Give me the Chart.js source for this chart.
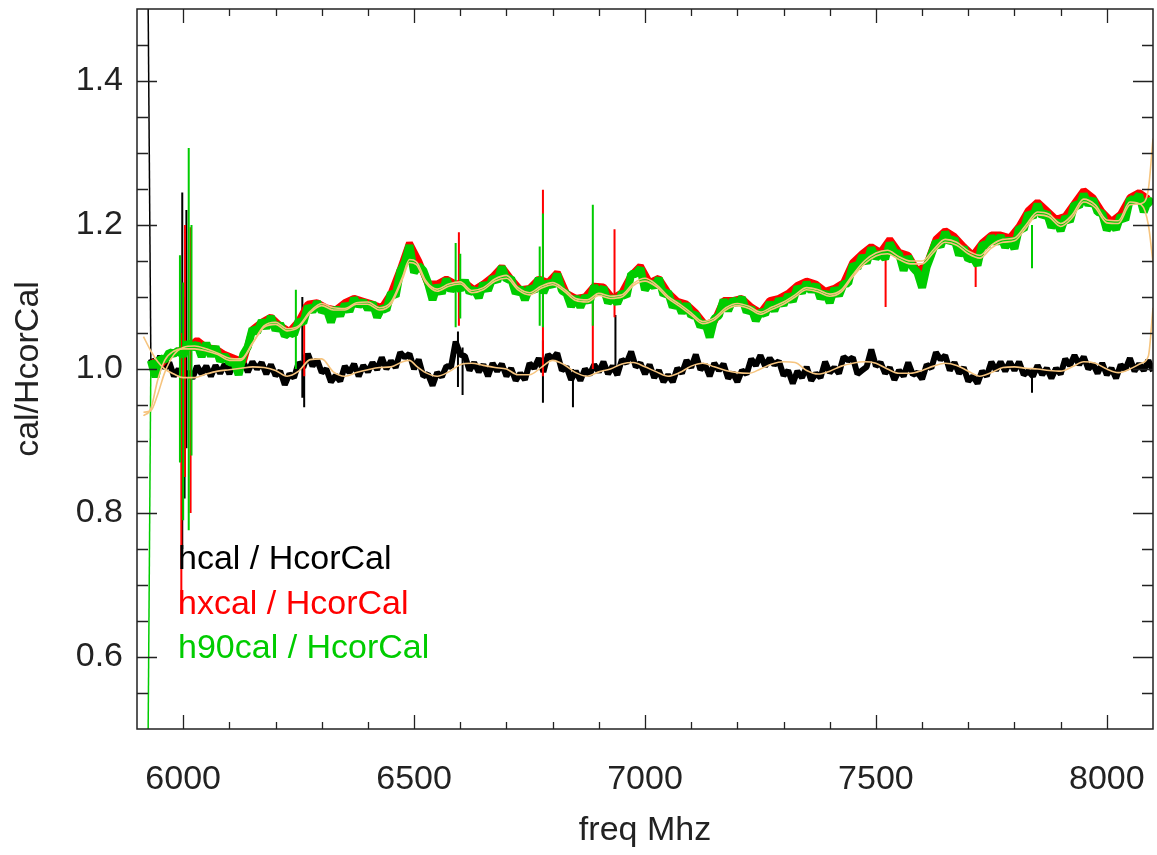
<!DOCTYPE html>
<html>
<head>
<meta charset="utf-8">
<script src="https://cdn.jsdelivr.net/npm/chart.js@4.4.1/dist/chart.umd.min.js"></script>
<style>
  html, body { margin: 0; padding: 0; background: #fff; }
  #wrap { width: 1157px; height: 855px; }
</style>
</head>
<body>
<div id="wrap"><canvas id="chart" width="1157" height="855"></canvas></div>
<script>
// --- sample frequencies (MHz), 10 MHz grid ---
const sampleFreq = [
  5930,5940,5950,5960,5970,5980,5990,6000,6010,6020,
  6030,6040,6050,6060,6070,6080,6090,6100,6110,6120,
  6130,6140,6150,6160,6170,6180,6190,6200,6210,6220,
  6230,6240,6250,6260,6270,6280,6290,6300,6310,6320,
  6330,6340,6350,6360,6370,6380,6390,6400,6410,6420,
  6430,6440,6450,6460,6470,6480,6490,6500,6510,6520,
  6530,6540,6550,6560,6570,6580,6590,6600,6610,6620,
  6630,6640,6650,6660,6670,6680,6690,6700,6710,6720,
  6730,6740,6750,6760,6770,6780,6790,6800,6810,6820,
  6830,6840,6850,6860,6870,6880,6890,6900,6910,6920,
  6930,6940,6950,6960,6970,6980,6990,7000,7010,7020,
  7030,7040,7050,7060,7070,7080,7090,7100,7110,7120,
  7130,7140,7150,7160,7170,7180,7190,7200,7210,7220,
  7230,7240,7250,7260,7270,7280,7290,7300,7310,7320,
  7330,7340,7350,7360,7370,7380,7390,7400,7410,7420,
  7430,7440,7450,7460,7470,7480,7490,7500,7510,7520,
  7530,7540,7550,7560,7570,7580,7590,7600,7610,7620,
  7630,7640,7650,7660,7670,7680,7690,7700,7710,7720,
  7730,7740,7750,7760,7770,7780,7790,7800,7810,7820,
  7830,7840,7850,7860,7870,7880,7890,7900,7910,7920,
  7930,7940,7950,7960,7970,7980,7990,8000,8010,8020,
  8030,8040,8050,8060,8070,8080,8090,8100
];

// hcal / HcorCal
const hcalRatio = [
  1.014,0.998,1.018,1.001,1.009,0.990,1.000,0.986,0.996,0.987,
  1.004,0.993,1.004,0.990,1.005,0.994,1.007,0.993,1.010,0.996,
  1.010,0.996,1.010,1.000,1.009,0.993,1.006,0.991,0.997,0.978,
  0.993,0.988,1.009,1.002,1.021,1.004,1.013,0.995,1.000,0.982,
  0.991,0.983,1.004,0.995,1.007,0.990,1.005,0.996,1.009,0.999,
  1.016,1.000,1.011,1.002,1.023,1.016,1.021,1.000,1.013,0.990,
  0.993,0.977,0.995,0.989,1.004,1.003,1.038,1.020,1.018,0.998,
  1.009,0.996,1.006,0.990,1.008,0.997,1.007,0.990,1.001,0.984,
  0.994,0.985,1.008,1.001,1.015,0.996,1.020,1.014,1.022,0.998,
  1.003,0.985,0.997,0.984,1.000,0.992,1.006,0.996,1.010,0.993,
  1.004,0.992,1.013,1.008,1.024,1.003,1.008,0.993,1.006,0.988,
  0.998,0.982,0.992,0.982,1.001,0.994,1.012,1.002,1.020,0.999,
  1.006,0.990,1.008,0.998,1.007,0.987,0.995,0.982,0.998,0.993,
  1.014,1.005,1.019,1.004,1.015,1.006,1.011,0.991,0.998,0.980,
  0.997,0.988,1.003,0.984,0.994,0.988,1.010,0.995,1.002,0.994,
  1.017,1.012,1.016,0.993,0.998,1.003,1.027,1.004,1.009,0.994,
  1.002,0.985,0.998,0.990,1.009,0.992,0.995,0.986,1.006,1.001,
  1.023,1.013,1.019,0.998,1.009,0.994,1.002,0.983,0.990,0.980,
  0.997,0.990,1.010,0.998,1.010,0.997,1.010,0.998,1.010,0.992,
  0.997,0.990,1.005,0.992,1.001,0.987,1.001,0.993,1.014,1.005,
  1.019,1.006,1.017,1.000,1.007,0.994,1.008,0.992,1.001,0.987,
  1.006,0.999,1.015,0.997,1.007,0.998,1.012,0.997
];

// h90cal / HcorCal
const h90calRatio = [
  1.012,0.989,1.015,1.012,1.023,1.021,1.026,1.018,1.037,1.029,
  1.035,1.017,1.036,1.018,1.031,1.011,1.019,1.009,1.010,0.992,
  1.020,1.031,1.056,1.051,1.067,1.057,1.073,1.054,1.063,1.046,
  1.051,1.048,1.067,1.064,1.087,1.080,1.093,1.080,1.084,1.065,
  1.085,1.074,1.090,1.080,1.098,1.088,1.094,1.083,1.092,1.072,
  1.085,1.082,1.106,1.101,1.136,1.148,1.172,1.134,1.143,1.137,
  1.120,1.096,1.116,1.105,1.125,1.109,1.117,1.110,1.123,1.106,
  1.111,1.099,1.119,1.109,1.127,1.122,1.142,1.124,1.126,1.105,
  1.113,1.096,1.113,1.108,1.126,1.106,1.121,1.115,1.132,1.109,
  1.105,1.087,1.100,1.086,1.101,1.093,1.115,1.106,1.113,1.092,
  1.100,1.091,1.106,1.101,1.132,1.132,1.140,1.110,1.120,1.114,
  1.126,1.103,1.107,1.086,1.093,1.078,1.090,1.074,1.076,1.059,
  1.065,1.044,1.070,1.074,1.096,1.081,1.096,1.091,1.099,1.079,
  1.085,1.067,1.080,1.076,1.092,1.081,1.097,1.089,1.103,1.094,
  1.114,1.106,1.120,1.108,1.117,1.098,1.107,1.092,1.112,1.102,
  1.118,1.119,1.145,1.140,1.157,1.147,1.168,1.154,1.161,1.153,
  1.175,1.162,1.160,1.137,1.156,1.141,1.134,1.113,1.142,1.159,
  1.177,1.170,1.190,1.176,1.181,1.158,1.169,1.152,1.155,1.144,
  1.173,1.171,1.184,1.175,1.185,1.169,1.181,1.167,1.196,1.194,
  1.216,1.211,1.229,1.212,1.217,1.197,1.206,1.192,1.211,1.205,
  1.229,1.226,1.243,1.228,1.236,1.218,1.216,1.193,1.203,1.194,
  1.213,1.207,1.236,1.234,1.242,1.218,1.235,1.229
];

// hxcal / HcorCal, 20 MHz grid
const redFreq = [
  5930,5950,5970,5990,6010,6030,6050,6070,6090,6110,
  6130,6150,6170,6190,6210,6230,6250,6270,6290,6310,
  6330,6350,6370,6390,6410,6430,6450,6470,6490,6510,
  6530,6550,6570,6590,6610,6630,6650,6670,6690,6710,
  6730,6750,6770,6790,6810,6830,6850,6870,6890,6910,
  6930,6950,6970,6990,7010,7030,7050,7070,7090,7110,
  7130,7150,7170,7190,7210,7230,7250,7270,7290,7310,
  7330,7350,7370,7390,7410,7430,7450,7470,7490,7510,
  7530,7550,7570,7590,7610,7630,7650,7670,7690,7710,
  7730,7750,7770,7790,7810,7830,7850,7870,7890,7910,
  7930,7950,7970,7990,8010,8030,8050,8070,8090
];
const hxcalRatio = [
  1.010,1.005,1.020,1.025,1.030,1.040,1.030,1.028,1.020,1.015,
  1.010,1.055,1.065,1.072,1.060,1.052,1.066,1.090,1.092,1.085,
  1.082,1.092,1.098,1.094,1.090,1.085,1.105,1.138,1.175,1.150,
  1.118,1.118,1.125,1.118,1.120,1.110,1.118,1.128,1.142,1.125,
  1.110,1.112,1.125,1.120,1.134,1.105,1.098,1.100,1.115,1.114,
  1.098,1.106,1.130,1.143,1.120,1.126,1.106,1.094,1.090,1.078,
  1.062,1.066,1.095,1.095,1.098,1.086,1.078,1.095,1.098,1.105,
  1.116,1.122,1.118,1.108,1.112,1.120,1.148,1.160,1.170,1.162,
  1.180,1.162,1.158,1.136,1.145,1.180,1.192,1.184,1.170,1.158,
  1.175,1.186,1.186,1.182,1.198,1.220,1.232,1.220,1.208,1.212,
  1.230,1.248,1.238,1.218,1.205,1.215,1.238,1.245,1.236
];

// spikes (freq, low, high)
const blackSpikeFreq = [5998, 6003, 6007, 6258, 6262, 6595, 6605, 6779, 6844, 6936, 7838];
const blackSpikeLow  = [0.750, 0.820, 0.890, 0.960, 0.947, 0.975, 0.964, 0.953, 0.947, 0.990, 0.967];
const blackSpikeHigh = [1.245, 1.100, 1.221, 1.100, 1.020, 1.052, 1.030, 1.040, 1.000, 1.075, 1.000];
const redSpikeFreq = [5996, 6004, 6016, 6262, 6597, 6779, 6887, 6934, 7521, 7716];
const redSpikeLow  = [0.660, 0.850, 0.800, 0.990, 1.060, 0.990, 1.000, 1.072, 1.086, 1.114];
const redSpikeHigh = [1.050, 1.200, 1.197, 1.090, 1.190, 1.249, 1.120, 1.194, 1.160, 1.160];
const greenSpikeFreq = [5993, 6000, 6012, 6018, 6244, 6590, 6600, 6772, 6779, 6887, 7838];
const greenSpikeLow  = [0.870, 0.790, 0.776, 0.880, 1.000, 1.058, 1.070, 1.060, 1.058, 1.060, 1.140];
const greenSpikeHigh = [1.158, 1.120, 1.307, 1.200, 1.110, 1.175, 1.160, 1.170, 1.216, 1.228, 1.200];

// first samples run off the plot (drawn thin)
const startFreq = 5923;
const hcalStart = 1.6;
const h90calStart = 0.4;

// smooth fits
const fitFreq = [
  5914,5930,5945,5960,5980,6000,6025,6050,6075,6100,
  6125,6150,6175,6200,6225,6250,6275,6300,6325,6350,
  6375,6400,6425,6450,6475,6490,6505,6525,6550,6575,
  6600,6625,6650,6675,6700,6725,6750,6775,6800,6825,
  6850,6875,6900,6925,6950,6975,7000,7025,7050,7075,
  7100,7125,7150,7175,7200,7225,7250,7275,7300,7325,
  7350,7375,7400,7425,7450,7475,7500,7525,7550,7575,
  7600,7625,7650,7675,7700,7725,7750,7775,7800,7825,
  7850,7875,7900,7925,7950,7975,8000,8025,8050,8075,
  8090,8100
];
const h90Fit = [
  0.935,0.945,0.985,1.012,1.025,1.028,1.028,1.025,1.020,1.012,
  1.012,1.035,1.058,1.062,1.053,1.058,1.078,1.088,1.082,1.082,
  1.090,1.090,1.082,1.090,1.125,1.148,1.145,1.120,1.108,1.115,
  1.118,1.106,1.110,1.122,1.126,1.110,1.103,1.112,1.117,1.108,
  1.095,1.093,1.102,1.098,1.100,1.116,1.122,1.114,1.098,1.087,
  1.075,1.063,1.068,1.082,1.088,1.084,1.076,1.083,1.090,1.100,
  1.110,1.107,1.101,1.107,1.128,1.146,1.157,1.160,1.152,1.146,
  1.146,1.162,1.176,1.172,1.160,1.154,1.168,1.176,1.178,1.196,
  1.214,1.211,1.198,1.210,1.232,1.224,1.203,1.202,1.228,1.230,
  1.250,1.320
];
const hxFit = [
  0.940,0.942,0.965,0.995,1.020,1.030,1.032,1.028,1.022,1.015,
  1.014,1.036,1.060,1.065,1.056,1.060,1.080,1.091,1.085,1.084,
  1.092,1.093,1.085,1.093,1.128,1.152,1.149,1.123,1.111,1.118,
  1.121,1.109,1.113,1.125,1.130,1.113,1.106,1.115,1.120,1.111,
  1.098,1.096,1.105,1.101,1.103,1.119,1.126,1.117,1.101,1.090,
  1.078,1.066,1.071,1.085,1.091,1.087,1.079,1.086,1.093,1.103,
  1.113,1.110,1.104,1.110,1.131,1.150,1.161,1.165,1.156,1.150,
  1.150,1.166,1.180,1.176,1.164,1.158,1.172,1.180,1.182,1.200,
  1.218,1.215,1.202,1.214,1.236,1.228,1.207,1.206,1.232,1.228,
  1.200,1.148
];
const hFit = [
  1.045,1.025,1.010,1.000,0.993,0.988,0.988,0.993,0.997,0.999,
  1.001,1.003,1.002,0.998,0.990,0.997,1.013,1.014,0.996,0.990,
  0.995,0.999,1.002,1.003,1.010,1.012,1.004,0.995,0.990,0.996,
  1.006,1.008,1.005,1.002,1.000,0.992,0.992,1.002,1.012,1.006,
  0.995,0.990,0.996,1.000,1.007,1.009,1.003,0.996,0.990,0.995,
  1.004,1.008,1.003,0.998,0.995,0.994,1.000,1.007,1.010,1.009,
  0.998,0.993,0.997,1.004,1.008,1.010,1.008,1.000,0.994,0.994,
  0.998,1.004,1.008,1.005,0.997,0.990,0.995,1.002,1.003,1.001,
  1.000,0.998,0.997,1.003,1.010,1.008,1.000,0.995,1.000,1.008,
  1.018,1.085
];

// axes
const xRange = [5900, 8100];
const yRange = [0.5, 1.5];
const xTickValues = [6000, 6500, 7000, 7500, 8000];
const xMinorTicks = [6000,6100,6200,6300,6400,6500,6600,6700,6800,6900,7000,7100,7200,7300,7400,7500,7600,7700,7800,7900,8000];
const yTickValues = [0.6, 0.8, 1.0, 1.2, 1.4];
const yMinorTicks = [0.55,0.6,0.65,0.7,0.75,0.8,0.85,0.9,0.95,1.0,1.05,1.1,1.15,1.2,1.25,1.3,1.35,1.4,1.45];

const legendLabels = ['hcal / HcorCal', 'hxcal / HcorCal', 'h90cal / HcorCal'];
const legendColors = ['#000000', '#ff0000', '#00cc00'];

const FONT = '"Liberation Sans", Arial, Helvetica, sans-serif';
const FIT_COLOR = '#f6c47e';

function toPoints(xs, ys) {
  return xs.map((x, i) => ({ x: x, y: ys[i] }));
}
function spikePoints(fs, lo, hi) {
  const pts = [];
  fs.forEach((f, i) => {
    pts.push({ x: f, y: lo[i] }, { x: f, y: hi[i] }, { x: f, y: null });
  });
  return pts;
}
function isIn(list, v) {
  return list.some(t => Math.abs(t - v) < 1e-6);
}

// frame, inward ticks and the text legend
const idlFrame = {
  id: 'idlFrame',
  afterDatasetsDraw(chart) {
    const { ctx, chartArea: a, scales: { x, y } } = chart;
    ctx.save();
    ctx.strokeStyle = '#222';
    ctx.lineWidth = 1.5;
    ctx.strokeRect(a.left, a.top, a.right - a.left, a.bottom - a.top);
    ctx.lineWidth = 1.3;
    ctx.beginPath();
    yMinorTicks.forEach(v => {
      const py = Math.round(y.getPixelForValue(v)) + 0.5;
      const len = isIn(yTickValues, v) ? 20 : 11;
      ctx.moveTo(a.left, py); ctx.lineTo(a.left + len, py);
      ctx.moveTo(a.right, py); ctx.lineTo(a.right - len, py);
    });
    xMinorTicks.forEach(v => {
      const px = Math.round(x.getPixelForValue(v)) + 0.5;
      const len = isIn(xTickValues, v) ? 14 : 7;
      ctx.moveTo(px, a.bottom); ctx.lineTo(px, a.bottom - len);
      ctx.moveTo(px, a.top); ctx.lineTo(px, a.top + len);
    });
    ctx.stroke();

    ctx.font = '34px ' + FONT;
    ctx.textAlign = 'left';
    ctx.textBaseline = 'alphabetic';
    legendLabels.forEach((t, i) => {
      ctx.fillStyle = legendColors[i];
      ctx.fillText(t, 178, 569 + i * 44.5);
    });
    ctx.restore();
  }
};

const ctx = document.getElementById('chart').getContext('2d');
new Chart(ctx, {
  type: 'line',
  data: {
    datasets: [
      { label: 'hFit', data: toPoints(fitFreq, hFit), borderColor: FIT_COLOR, borderWidth: 1.6, cubicInterpolationMode: 'monotone', order: 0 },
      { label: 'h90Fit', data: toPoints(fitFreq, h90Fit), borderColor: FIT_COLOR, borderWidth: 1.6, cubicInterpolationMode: 'monotone', order: 0 },
      { label: 'hxFit', data: toPoints(fitFreq, hxFit), borderColor: FIT_COLOR, borderWidth: 1.6, cubicInterpolationMode: 'monotone', order: 0 },
      { label: legendLabels[2], data: toPoints(sampleFreq, h90calRatio), borderColor: '#00cc00', borderWidth: 8, order: 1 },
      { label: 'h90 start', data: [{ x: startFreq, y: h90calStart }, { x: sampleFreq[0], y: h90calRatio[0] }], borderColor: '#00cc00', borderWidth: 1.5, order: 1 },
      { label: 'h90 spikes', data: spikePoints(greenSpikeFreq, greenSpikeLow, greenSpikeHigh), borderColor: '#00cc00', borderWidth: 2, order: 1 },
      { label: legendLabels[1], data: toPoints(redFreq, hxcalRatio), borderColor: '#ff0000', borderWidth: 7, order: 2 },
      { label: 'hx spikes', data: spikePoints(redSpikeFreq, redSpikeLow, redSpikeHigh), borderColor: '#ff0000', borderWidth: 2, order: 2 },
      { label: legendLabels[0], data: toPoints(sampleFreq, hcalRatio), borderColor: '#000000', borderWidth: 6, order: 3 },
      { label: 'h start', data: [{ x: startFreq, y: hcalStart }, { x: sampleFreq[0], y: hcalRatio[0] }], borderColor: '#000000', borderWidth: 1.5, order: 3 },
      { label: 'h spikes', data: spikePoints(blackSpikeFreq, blackSpikeLow, blackSpikeHigh), borderColor: '#000000', borderWidth: 2, order: 3 }
    ]
  },
  options: {
    responsive: false,
    animation: false,
    devicePixelRatio: 1,
    events: [],
    layout: { padding: { left: 0, top: 9, right: 4, bottom: 0 } },
    elements: {
      point: { radius: 0 },
      line: { tension: 0, borderJoinStyle: 'bevel', fill: false }
    },
    plugins: {
      legend: { display: false },
      tooltip: { enabled: false },
      title: { display: false }
    },
    scales: {
      x: {
        type: 'linear',
        min: xRange[0],
        max: xRange[1],
        afterBuildTicks(scale) { scale.ticks = xTickValues.map(v => ({ value: v })); },
        afterFit(scale) {
          scale.height = 126;
          // the frame spans the full range; labels sit inside it
          scale.paddingLeft = 0;
          scale.paddingRight = 0;
        },
        grid: { display: false, drawTicks: false },
        border: { display: false },
        ticks: {
          color: '#222',
          font: { family: FONT, size: 34 },
          padding: 30,
          maxRotation: 0,
          autoSkip: false,
          callback: v => String(v)
        },
        title: {
          display: true,
          text: 'freq Mhz',
          color: '#222',
          font: { family: FONT, size: 34 },
          padding: { top: 0, bottom: 4 }
        }
      },
      y: {
        type: 'linear',
        min: yRange[0],
        max: yRange[1],
        afterBuildTicks(scale) { scale.ticks = yTickValues.map(v => ({ value: v })); },
        afterFit(scale) {
          scale.width = 137;
          scale.paddingTop = 0;
          scale.paddingBottom = 0;
        },
        grid: { display: false, drawTicks: false },
        border: { display: false },
        ticks: {
          color: '#222',
          font: { family: FONT, size: 34 },
          padding: 14,
          autoSkip: false,
          callback: v => v.toFixed(1)
        },
        title: {
          display: true,
          text: 'cal/HcorCal',
          color: '#222',
          font: { family: FONT, size: 34 },
          padding: { top: 8, bottom: 0 }
        }
      }
    }
  },
  plugins: [idlFrame]
});
</script>
</body>
</html>
